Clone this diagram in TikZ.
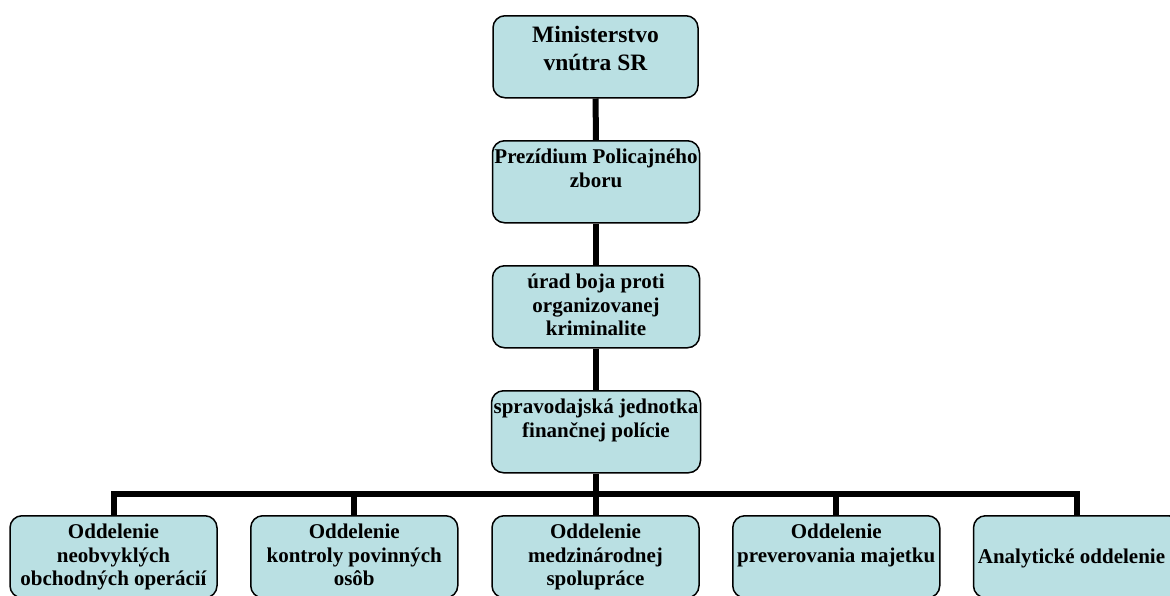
\documentclass[tikz,border=0pt]{standalone}
\usepackage{fontspec}
\setmainfont{Liberation Serif}
\usetikzlibrary{positioning}
\definecolor{boxfill}{RGB}{186,224,227}
% text of a box: top aligned (or centred with [c]) in a fixed area, lines may run up to the border
\newcommand{\boxtext}[2][t]{\parbox[c][72pt][#1]{199pt}{\centering
    \leftskip=-9pt plus 1fil\rightskip=-9pt plus 1fil\rule{0pt}{18pt}#2}}
\begin{document}
\begin{tikzpicture}[x=1pt, y=-1pt,
    box/.style={draw, line width=1.5pt, rounded corners=12pt, fill=boxfill,
        minimum width=207pt, minimum height=82pt, inner sep=0pt, anchor=north,
        font=\fontsize{21}{23.3}\selectfont\bfseries},
    conn/.style={line width=6pt}]
    \clip (0,0) rectangle (1170,595);  % page = reference frame
    \fill[white] (0,0) rectangle (1170,595);
    % chain of command
    \node[box, minimum width=205pt, font=\fontsize{23.5}{28}\selectfont\bfseries] (mvsr) at (595.5,15)
        {\parbox[c][72pt][t]{199pt}{\centering\rule{0pt}{22pt}Ministerstvo\\ vnútra SR}};
    \node[box] (ppz) at (596,140) {\boxtext{Prezídium Policajného\\ zboru}};
    \node[box] (ubok) at (596,265) {\boxtext{úrad boja proti\\ organizovanej\\ kriminalite}};
    \node[box, minimum width=209pt] (sjfp) at (596,390) {\boxtext{spravodajská jednotka\\ finančnej polície}};
    % departments
    \node[box] (onoo) at (113.5,515) {\boxtext{Oddelenie\\ neobvyklých\\ obchodných operácií}};
    \node[box] (okpo) at (354.25,515) {\boxtext{Oddelenie\\ kontroly povinných\\ osôb}};
    \node[box] (omes) at (595.5,515) {\boxtext{Oddelenie\\ medzinárodnej\\ spolupráce}};
    \node[box] (opm) at (836.25,515) {\boxtext{Oddelenie\\ preverovania majetku}};
    \node[box] (aod) at (1077,515) {\boxtext[c]{\hspace*{-11pt}Analytické oddelenie}};
    \coordinate (bus) at (595.5,494);
    \draw[conn] (mvsr) -- (ppz);
    \draw[conn] (ppz) -- (ubok);
    \draw[conn] (ubok) -- (sjfp);
    \draw[conn] (sjfp.south) -- (sjfp.south |- bus);
    \draw[conn] (onoo.north) -- (onoo.north |- bus) -| (aod.north);
    \foreach \n in {okpo,omes,opm}
        \draw[conn] (\n.north) -- (\n.north |- bus);
\end{tikzpicture}
\end{document}
